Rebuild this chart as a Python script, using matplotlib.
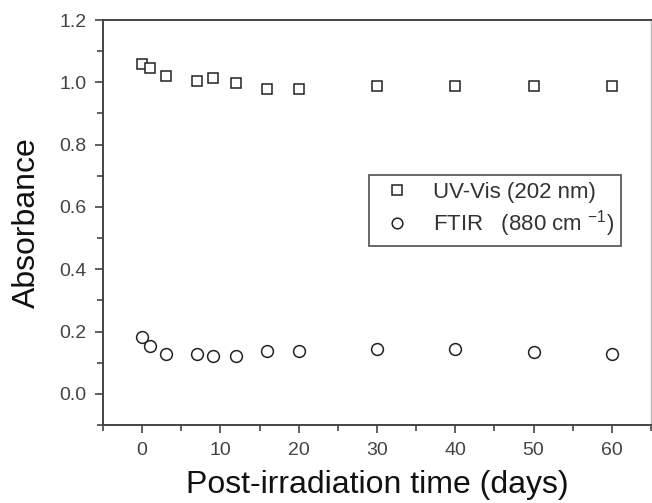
import matplotlib
matplotlib.use("Agg")
import matplotlib.pyplot as plt
from matplotlib.ticker import MultipleLocator

plt.rcParams['font.family'] = ['Liberation Sans', 'DejaVu Sans']
plt.rcParams['mathtext.default'] = 'regular'

# post-irradiation time (days)
days = [0, 1, 3, 7, 9, 12, 16, 20, 30, 40, 50, 60]
uv_vis = [1.059, 1.045, 1.021, 1.005, 1.014, 0.999, 0.977, 0.979, 0.988, 0.988, 0.988, 0.988]
ftir = [0.182, 0.154, 0.129, 0.127, 0.122, 0.120, 0.136, 0.136, 0.143, 0.144, 0.135, 0.127]

fig = plt.figure(figsize=(6.52, 5.03), dpi=100)
ax = fig.add_axes([103/652, 1 - 425/503, 548/652, 405/503])

ax.plot(days, uv_vis, ls='none', marker='s', ms=7.5, mfc='white', mec='#222222', mew=1.1,
        label='UV-Vis (202 nm)')
ax.plot(days, ftir, ls='none', marker='o', ms=8.5, mfc='white', mec='#222222', mew=1.1,
        label='FTIR   (880 cm $^{-1}$)')

ax.set_xlim(-5, 65)
ax.set_ylim(-0.1, 1.2)
ax.xaxis.set_minor_locator(MultipleLocator(5))
ax.yaxis.set_minor_locator(MultipleLocator(0.1))
ax.set_xticks([0, 10, 20, 30, 40, 50, 60])
ax.set_yticks([0.0, 0.2, 0.4, 0.6, 0.8, 1.0, 1.2])
ax.set_yticklabels(['0.0', '0.2', '0.4', '0.6', '0.8', '1.0', '1.2'])

ax.tick_params(which='both', direction='out', top=False, right=False, color='#444444',
               labelcolor='#444444', labelsize=14, width=1.2)
ax.tick_params(which='major', length=6, pad=6)
ax.tick_params(which='minor', length=4)

for side in ['left', 'bottom', 'top']:
    ax.spines[side].set_color('#444444')
    ax.spines[side].set_linewidth(1.4)
ax.spines['right'].set_color('#bbbbbb')
ax.spines['right'].set_linewidth(1.0)

ax.set_xlabel('Post-irradiation time (days)', fontsize=23, color='#111111', labelpad=8)
ax.set_ylabel('Absorbance', fontsize=23, color='#111111', labelpad=12)

leg = ax.legend(loc='upper left', bbox_to_anchor=((369 - 103) / 548, (425 - 175) / 405),
                fontsize=16, frameon=True, fancybox=False, edgecolor='#222222',
                handletextpad=0.7, borderpad=0.3, labelspacing=0.25, handlelength=1.9,
                markerscale=0.9, borderaxespad=0)
leg.get_frame().set_linewidth(1.2)
for t in leg.get_texts():
    t.set_color('#333333')

fig.savefig('out.png', dpi=100)
